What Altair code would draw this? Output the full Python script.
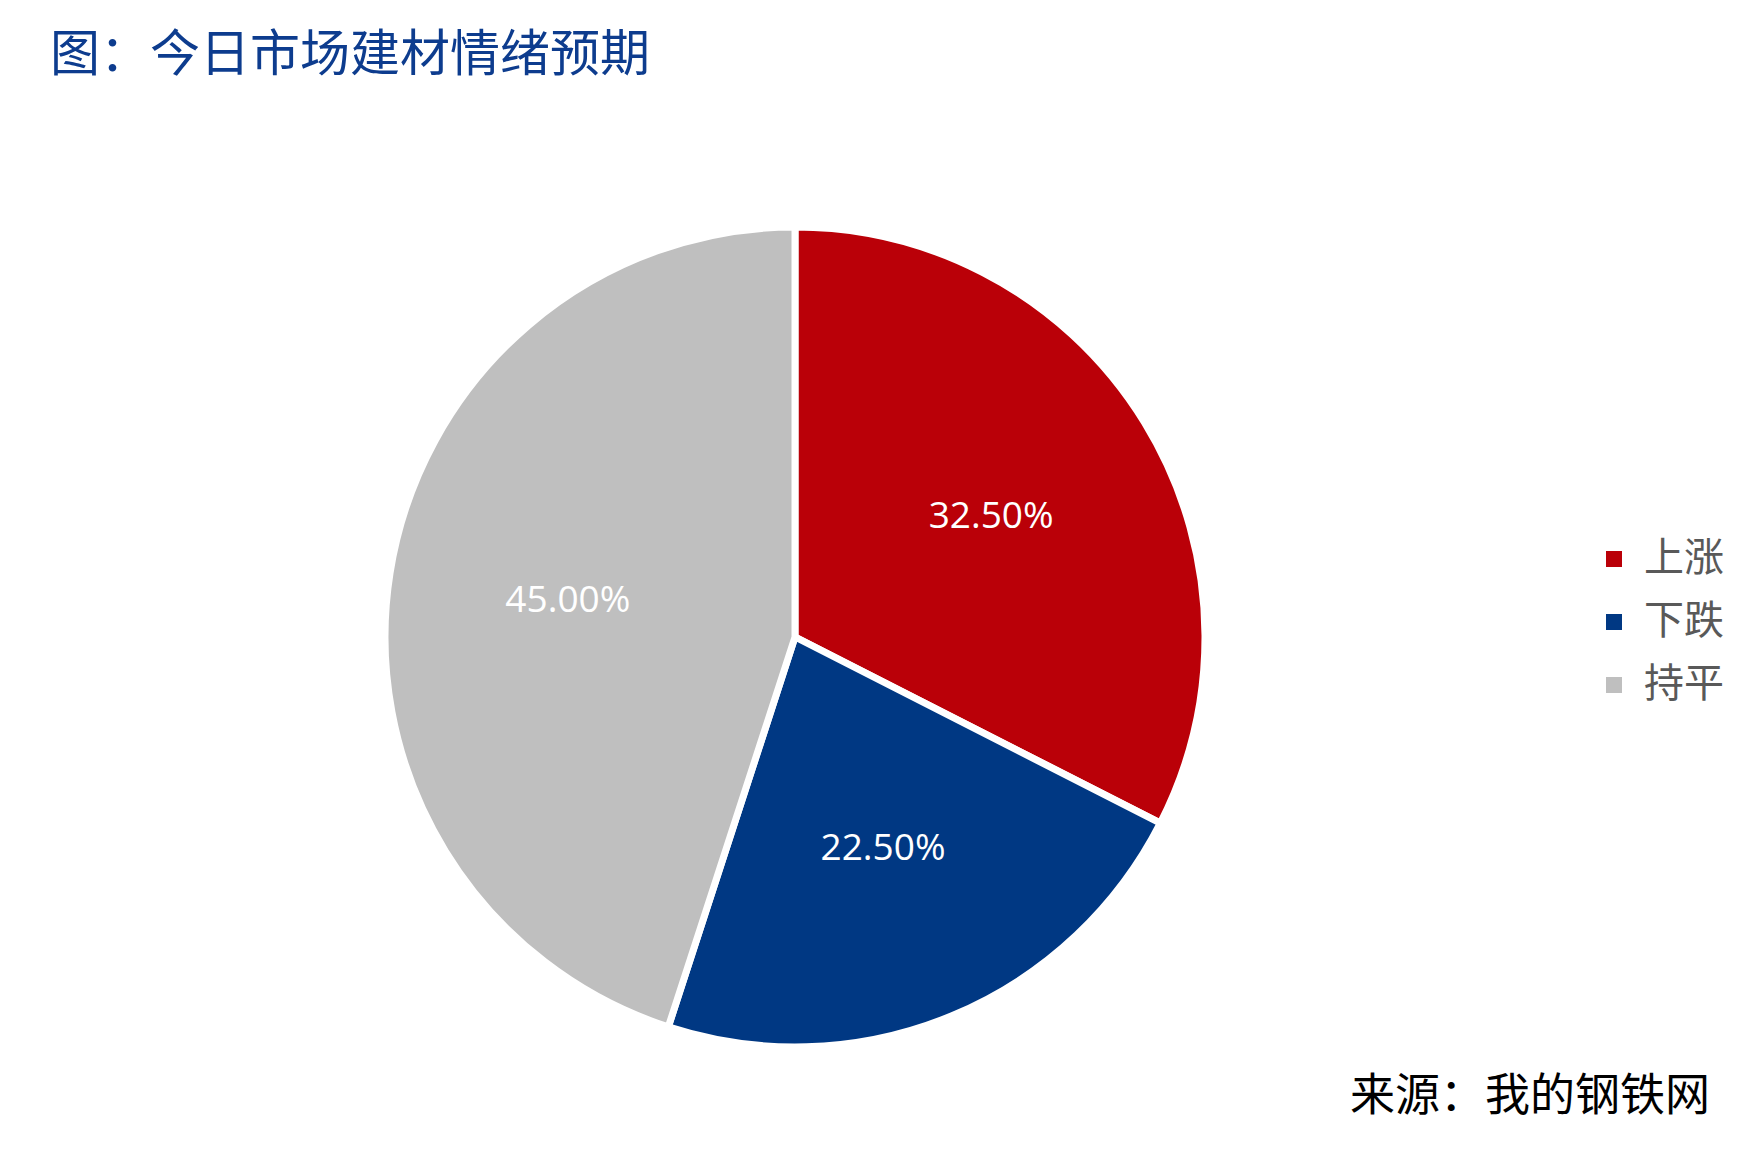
import altair as alt
import pandas as pd

categories = ["上涨", "下跌", "持平"]
shares = [32.5, 22.5, 45.0]
colors = ["#BA0008", "#003883", "#BFBFBF"]
title_text = ["图：今日市场建材情绪预期"]
source_text = ["来源：我的钢铁网"]

df = pd.DataFrame({"cat": categories, "value": shares, "idx": list(range(len(categories)))})

CX, CY, R = 787, 629, 410

base = alt.Chart(df).transform_calculate(frac="datum.value / 100")

arcs = base.mark_arc(outerRadius=R, stroke="white", strokeWidth=7).encode(
    theta=alt.Theta("value:Q", stack=True),
    order=alt.Order("idx:O"),
    color=alt.Color(
        "cat:N",
        scale=alt.Scale(domain=categories, range=colors),
        sort=categories,
        legend=alt.Legend(
            title=None,
            orient="none",
            legendX=1586,
            legendY=531,
            symbolType="square",
            symbolSize=256,
            symbolStrokeWidth=0,
            labelFont="Noto Sans CJK SC",
            labelFontSize=40,
            labelColor="#595959",
            labelOffset=10,
            rowPadding=23,
            padding=0,
        ),
    ),
    x=alt.value(CX),
    y=alt.value(CY),
)

labels = base.mark_text(
    radius=230,
    font="Open Sans",
    fontSize=37,
    color="white",
    align="center",
    baseline="middle",
).encode(
    theta=alt.Theta("value:Q", stack=True),
    order=alt.Order("idx:O"),
    text=alt.Text("frac:Q", format=".2%"),
    x=alt.value(CX),
    y=alt.value(CY),
)

title = alt.Chart(pd.DataFrame({"t": title_text})).mark_text(
    font="Noto Sans CJK SC",
    fontSize=50,
    color="#0D3C8E",
    align="left",
    baseline="middle",
).encode(text="t:N", x=alt.value(42), y=alt.value(48))

source = alt.Chart(pd.DataFrame({"t": source_text})).mark_text(
    font="Noto Sans CJK SC",
    fontSize=45,
    color="#000000",
    align="right",
    baseline="middle",
).encode(text="t:N", x=alt.value(1702), y=alt.value(1089))

chart = (
    alt.layer(arcs, labels, title, source)
    .properties(
        width=1748,
        height=1153,
        autosize=alt.AutoSizeParams(type="none"),
        padding=0,
        background="white",
    )
    .configure_view(strokeWidth=0, stroke="transparent")
)

chart.save("out.html", embed_options={"renderer": "svg", "actions": False})
